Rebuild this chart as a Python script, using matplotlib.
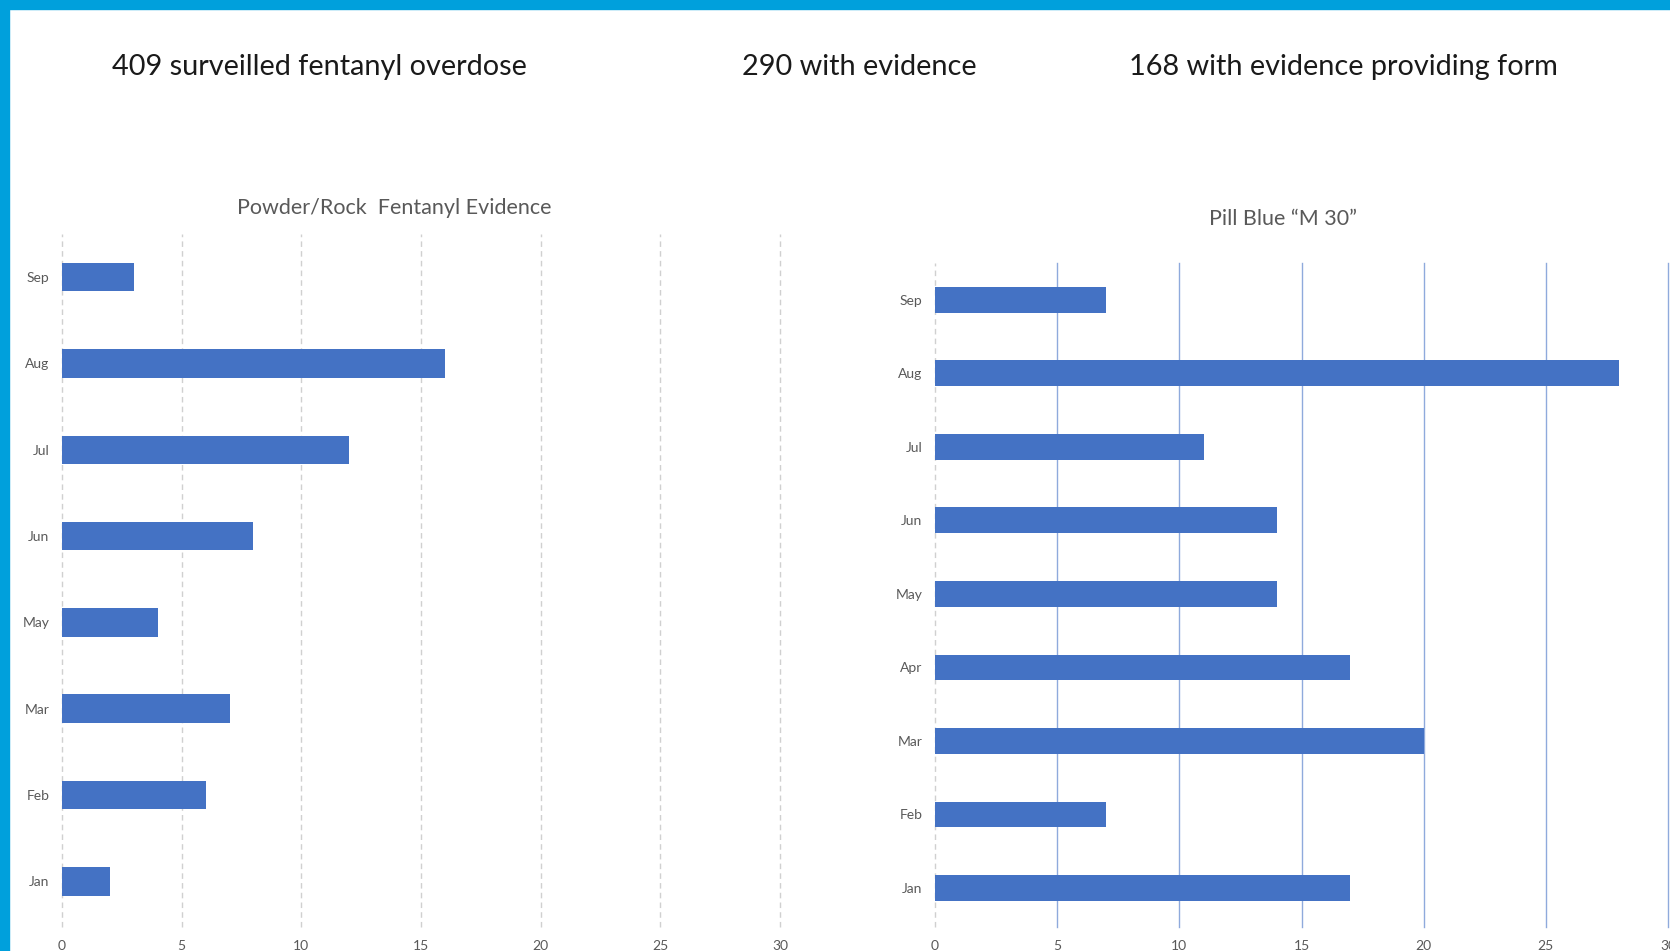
import numpy as np
import matplotlib
matplotlib.use("Agg")
import matplotlib.pyplot as plt
from matplotlib.patches import Rectangle

plt.rcParams['font.family'] = ['Lato', 'DejaVu Sans']

# header counts
headers = ["409 surveilled fentanyl overdose", "290 with evidence", "168 with evidence providing form"]

# powder / rock chart (no April in source)
powder_months = ["Jan", "Feb", "Mar", "May", "Jun", "Jul", "Aug", "Sep"]
powder_vals = [2, 6, 7, 4, 8, 12, 16, 3]

# pill blue "M 30" chart
pill_months = ["Jan", "Feb", "Mar", "Apr", "May", "Jun", "Jul", "Aug", "Sep"]
pill_vals = [17, 7, 20, 17, 14, 14, 11, 28, 7]

xticks = [0, 5, 10, 15, 20, 25, 30]

bar_col = '#4472C4'
txt_col = '#595959'

W, H = 1670, 951
fig = plt.figure(figsize=(W / 100, H / 100), dpi=100)

# blue frame on top and left
fig.patches.append(Rectangle((0, 1 - 9 / H), 1, 9 / H, transform=fig.transFigure,
                             color='#00A0DC', zorder=10))
fig.patches.append(Rectangle((0, 0), 9 / W, 1, transform=fig.transFigure,
                             color='#00A0DC', zorder=10))

# header line
for txt, xc in zip(headers, [319, 859, 1343]):
    fig.text(xc / W, 1 - 67 / H, txt, ha='center', va='center', fontsize=20.8, color='#1a1a1a')


def style_axes(ax, months, grid_style, grid_col):
    ax.set_xlim(0, 30)
    ax.set_xticks(xticks)
    ax.set_yticks(np.arange(len(months)))
    ax.set_yticklabels(months)
    ax.set_ylim(-0.53, len(months) - 0.5)
    for s in ax.spines.values():
        s.set_visible(False)
    ax.tick_params(length=0, labelsize=10, labelcolor=txt_col, pad=9)
    ax.tick_params(axis='x', pad=9)
    for t in xticks[1:]:
        ax.axvline(t, color=grid_col, lw=1, ls=grid_style, zorder=0, clip_on=False)
    ax.axvline(0, color='#D0D0D0', lw=1, ls=(0, (4, 3)), zorder=0, clip_on=False)


# left chart
ax1 = fig.add_axes([62 / W, 1 - 927 / H, (780 - 62) / W, (927 - 234) / H])
ax1.barh(np.arange(len(powder_months)), powder_vals, height=0.33, color=bar_col, zorder=2)
style_axes(ax1, powder_months, (0, (4, 3)), '#D0D0D0')
fig.text(394 / W, 1 - 208 / H, "Powder/Rock  Fentanyl Evidence", ha='center', va='center',
         fontsize=15.5, color=txt_col)

# right chart
ax2 = fig.add_axes([935 / W, 1 - 927 / H, (1668 - 935) / W, (927 - 263) / H])
ax2.barh(np.arange(len(pill_months)), pill_vals, height=0.35, color=bar_col, zorder=2)
style_axes(ax2, pill_months, '-', '#8FAADC')
fig.text(1283 / W, 1 - 219 / H, "Pill Blue \u201cM 30\u201d", ha='center', va='center',
         fontsize=15.5, color=txt_col)

fig.savefig("out.png", dpi=100)
